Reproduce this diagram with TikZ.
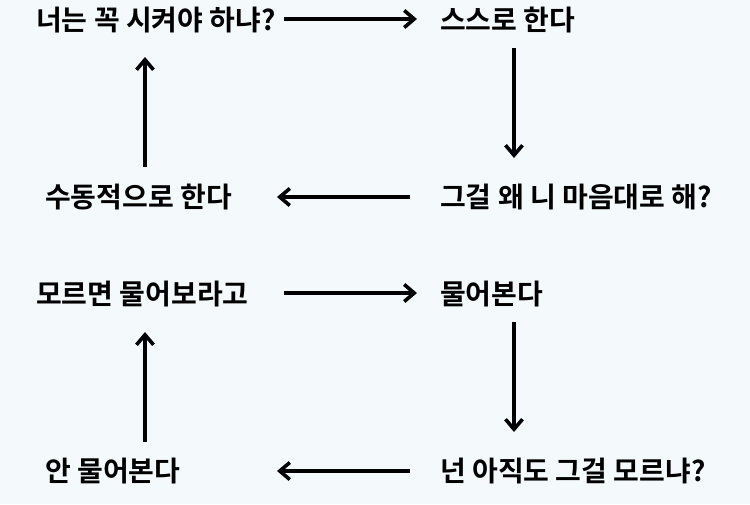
\documentclass[tikz,border=0pt]{standalone}
\usepackage{fontspec}
\newfontfamily\kr{Noto Sans CJK KR}[BoldFont={* Bold}]
\usetikzlibrary{arrows.meta}
\definecolor{bg}{RGB}{244,249,252}
\tikzset{
  lbl/.style={anchor=west, inner sep=0pt, font=\kr\bfseries\fontsize{28}{32}\selectfont, text=black},
  arr/.style={line width=3.6pt, -{Straight Barb[length=10pt,width=17pt,line width=3.6pt]}},
}
\begin{document}
\begin{tikzpicture}[x=1pt,y=-1pt]
\path[fill=bg] (0,0) rectangle (750,504);
\useasboundingbox (0,0) rectangle (750,504);
% top cycle
\node[lbl] (a1) at (36,20) {너는 꼭 시켜야 하냐?};
\node[lbl] (a2) at (440,20) {스스로 한다};
\node[lbl] (a3) at (440,197) {그걸 왜 니 마음대로 해?};
\node[lbl] (a4) at (45,197) {수동적으로 한다};
% bottom cycle
\node[lbl] (b1) at (36,294) {모르면 물어보라고};
\node[lbl] (b2) at (440,294) {물어본다};
\node[lbl] (b3) at (440,471) {넌 아직도 그걸 모르냐?};
\node[lbl] (b4) at (45,471) {안 물어본다};
% arrows top
\draw[arr] ([shift={(248,-1)}]a1.west) -- ([shift={(-23,-1)}]a2.west);
\draw[arr] ([shift={(74,28)}]a2.west) -- ([shift={(74,-39)}]a3.west);
\draw[arr] ([shift={(-30,0)}]a3.west) -- ([shift={(232,0)}]a4.west);
\draw[arr] ([shift={(100,-30)}]a4.west) -- ([shift={(109,37)}]a1.west);
% arrows bottom
\draw[arr] ([shift={(248,-1)}]b1.west) -- ([shift={(-23,-1)}]b2.west);
\draw[arr] ([shift={(74,28)}]b2.west) -- ([shift={(74,-39)}]b3.west);
\draw[arr] ([shift={(-30,0)}]b3.west) -- ([shift={(232,0)}]b4.west);
\draw[arr] ([shift={(100,-29)}]b4.west) -- ([shift={(109,38)}]b1.west);
\end{tikzpicture}
\end{document}
